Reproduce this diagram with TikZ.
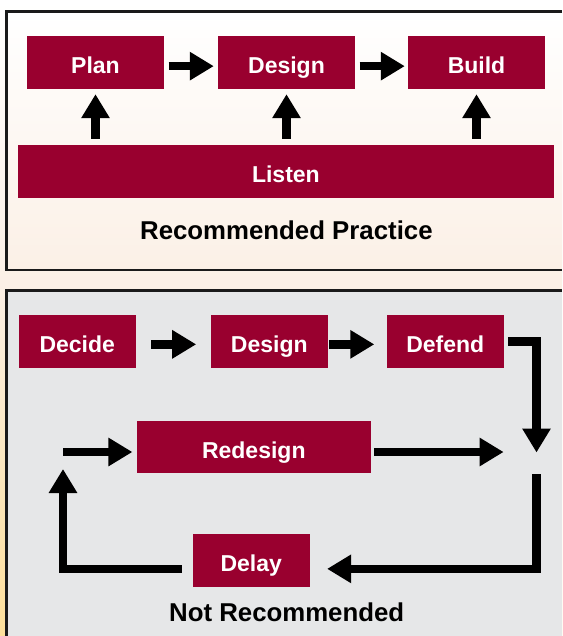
\documentclass[tikz,border=0pt]{standalone}
\usepackage{fontspec}
\setmainfont{Liberation Sans}
\usetikzlibrary{arrows.meta,calc}
\definecolor{crim}{HTML}{99002F}
\definecolor{peach}{HTML}{FBF0E6}
\definecolor{gold}{HTML}{FDDF9A}
\definecolor{panelgray}{HTML}{E6E7E8}
\definecolor{edge}{HTML}{1A1A1A}
\begin{document}
\begin{tikzpicture}[x=1pt,y=-1pt,
  box/.style={fill=crim, text=white, font=\fontsize{23}{23}\selectfont\bfseries,
    inner sep=0pt, minimum height=52.7pt, text height=22.5pt, text depth=0pt},
  arr/.style={draw=black, line width=8.5pt, -{Triangle[length=24pt,width=27pt]}, line join=miter},
  panel/.style={draw=edge, line width=2.6pt, line join=miter},
  caption/.style={font=\fontsize{25.8}{26}\selectfont\bfseries, anchor=base, inner sep=0pt}]
\useasboundingbox (0,0) rectangle (562,636);
\clip (0,0) rectangle (562,636);
% page background
\fill[top color=white, bottom color=peach] (0,0) rectangle (562,285);
\fill[top color=peach, bottom color=gold] (0,285) rectangle (562,636);
% panels (open on the right, they run off the picture)
\fill[top color=white, bottom color=peach] (6.5,11.5) rectangle (562,270);
\draw[panel] (562,11.5) -- (6.5,11.5) -- (6.5,270) -- (562,270);
\fill[panelgray] (6.5,290.5) rectangle (562,636);
\draw[panel] (562,290.5) -- (6.5,290.5) -- (6.5,640);

% ---------- Recommended practice ----------
\node[box, minimum width=137pt] (plan) at (95.5,62.35) {Plan};
\node[box, minimum width=137pt] (design) at (286.5,62.35) {Design};
\node[box, minimum width=137pt] (build) at (476.5,62.35) {Build};
\node[box, minimum width=535.8pt] (listen) at (285.9,171.35) {Listen};
\node[caption] (rec) at (286.4,239.3) {Recommended Practice};

\draw[arr] ($(plan.east)+(4.5,3.8)$) -- ($(design.west)+(-4,3.8)$);
\draw[arr] ($(design.east)+(4.5,3.8)$) -- ($(build.west)+(-3,3.8)$);
\draw[arr, shorten <=6pt, shorten >=5.3pt] (plan.south |- listen.north) -- (plan.south);
\draw[arr, shorten <=6pt, shorten >=5.3pt] (design.south |- listen.north) -- (design.south);
\draw[arr, shorten <=6pt, shorten >=5.3pt] (build.south |- listen.north) -- (build.south);

% ---------- Not recommended ----------
\node[box, minimum width=116.5pt] (decide) at (77.25,341.35) {Decide};
\node[box, minimum width=116.6pt] (design2) at (269.3,341.35) {Design};
\node[box, minimum width=116.6pt] (defend) at (445.3,341.35) {Defend};
\node[box, minimum width=233.6pt] (redesign) at (253.8,447) {Redesign};
\node[box, minimum width=116.9pt] (delay) at (251.25,560.35) {Delay};
\node[caption] (notrec) at (286.7,621.7) {Not Recommended};

\coordinate (hub) at (536.5,452.5);
\coordinate (ret) at (63,452);

\draw[arr] ($(decide.east)+(15.5,3)$) -- ($(design2.west)+(-14.6,3)$);
\draw[arr] ($(design2.east)+(1.4,3)$) -- ($(defend.west)+(-12.5,3)$);
\draw[arr] ($(defend.east)+(4.4,0)$) -| (hub);
\draw[arr] ($(redesign.east)+(3.6,5)$) -- ($(hub)+(-32.9,-0.5)$);
\draw[arr] ($(hub)+(0,21.5)$) |- ($(delay.east)+(17.2,8.5)$);
\draw[arr] ($(delay.west)+(-11,8.5)$) -| ($(ret)+(0,17)$);
\draw[arr] (ret) -- ($(redesign.west)+(-4.4,5)$);
\end{tikzpicture}
\end{document}
